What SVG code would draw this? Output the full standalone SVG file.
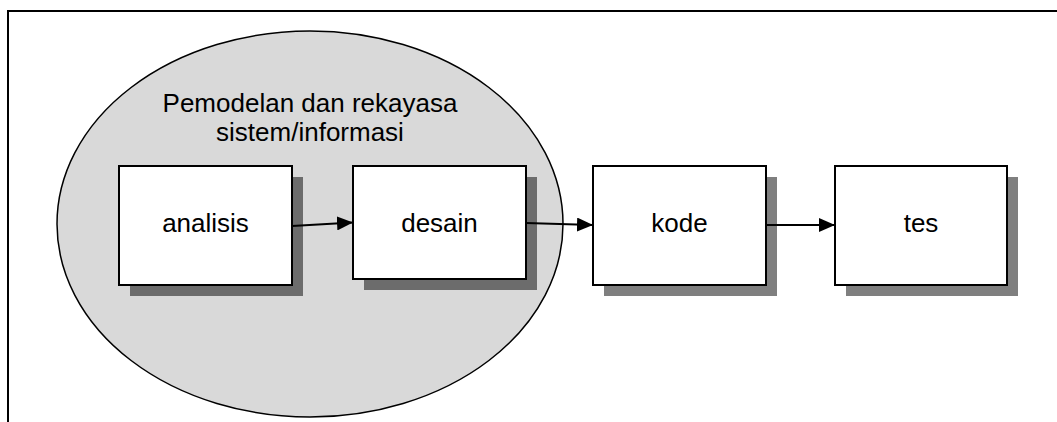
<svg xmlns="http://www.w3.org/2000/svg" width="1057" height="422" viewBox="0 0 1057 422">
<style>
.box{fill:#fff;stroke:#000;stroke-width:2}
.sh{fill:#000;fill-opacity:0.5}
.lbl{font-family:"Liberation Sans",Arial,sans-serif;font-size:26px;fill:#000;text-anchor:middle}
.con{stroke:#000;stroke-width:2;fill:none}
</style>
<defs>
<marker id="ah" markerWidth="16" markerHeight="14" refX="16" refY="7" orient="auto" markerUnits="userSpaceOnUse">
<path d="M0,0 L16,7 L0,14 Z" fill="#000"/>
</marker>
</defs>
<rect width="1057" height="422" fill="#fff"/>
<g id="frame">
<path d="M8,422 V11 H1057" fill="none" stroke="#000" stroke-width="2"/>
</g>
<g id="group-ellipse">
<ellipse cx="310" cy="224" rx="253" ry="193" fill="#d9d9d9" stroke="#000" stroke-width="1.5"/>
<text class="lbl" x="310" y="112">Pemodelan dan rekayasa</text>
<text class="lbl" x="310" y="141">sistem/informasi</text>
</g>
<g id="analisis">
<rect class="sh" x="130" y="177" width="173" height="119"/>
<rect class="box" x="119" y="166" width="173" height="119"/>
<text class="lbl" x="205.5" y="232">analisis</text>
</g>
<g id="desain">
<rect class="sh" x="364" y="177" width="173" height="113"/>
<rect class="box" x="353" y="166" width="173" height="113"/>
<text class="lbl" x="439.5" y="232">desain</text>
</g>
<g id="kode">
<rect class="sh" x="604" y="177" width="173" height="119"/>
<rect class="box" x="593" y="166" width="173" height="119"/>
<text class="lbl" x="679.5" y="232">kode</text>
</g>
<g id="tes">
<rect class="sh" x="846" y="177" width="172" height="119"/>
<rect class="box" x="835" y="166" width="172" height="119"/>
<text class="lbl" x="921" y="232">tes</text>
</g>
<g id="connectors">
<line class="con" x1="292" y1="226" x2="353" y2="222.5" marker-end="url(#ah)"/>
<line class="con" x1="526" y1="223" x2="593" y2="225" marker-end="url(#ah)"/>
<line class="con" x1="766" y1="225" x2="835" y2="225" marker-end="url(#ah)"/>
</g>
</svg>
